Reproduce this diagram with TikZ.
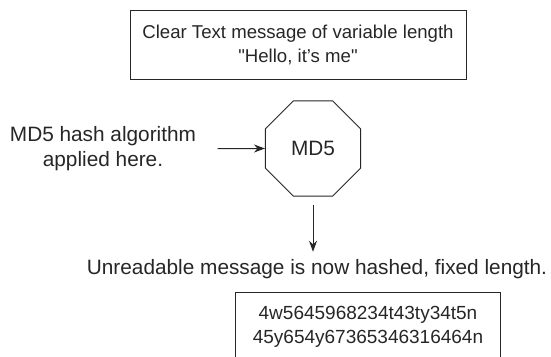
\documentclass[tikz,border=0pt]{standalone}
\usepackage{fontspec}
\setmainfont{Liberation Sans}[Ligatures=TeXOff]
\usetikzlibrary{shapes.geometric,arrows.meta}
\begin{document}
\begin{tikzpicture}[x=1pt,y=-1pt,
  every node/.style={font=\fontsize{19}{24}\selectfont, text=black!85},
  bigtext/.style={font=\fontsize{20.8}{25}\selectfont},
  msgbox/.style={draw=black!85, line width=0.9pt, align=center},
  hashstep/.style={draw=black!85, line width=0.9pt, regular polygon, regular polygon sides=8, minimum size=103pt, inner sep=0pt},
  flow/.style={draw=black!85, line width=1pt, -{Stealth[length=11pt,width=8pt]}}]
\useasboundingbox (0,0) rectangle (551,356);
\node[msgbox, minimum width=336pt, minimum height=69pt, font=\fontsize{18.6}{24}\selectfont] (clear) at (298,44.5) {Clear Text message of variable length\\"Hello, it’s me"};
\node[bigtext, align=center] (note) at (103,148.5) {MD5 hash algorithm\\applied here.};
\node[hashstep, bigtext] (md5) at (313,148.5) {MD5};
\node[bigtext] (result) at (317,269) {Unreadable message is now hashed, fixed length.};
\node[msgbox, anchor=north, minimum width=265pt, inner ysep=14pt, text depth=60pt] (hash) at (368,292) {4w5645968234t43ty34t5n\\45y654y67365346316464n};
\draw[flow, shorten <=18pt] (note.east) -- (md5.west);
\draw[flow, shorten <=8pt, shorten >=4pt] (md5.south) -- (md5.south |- result.north);
\end{tikzpicture}
\end{document}
